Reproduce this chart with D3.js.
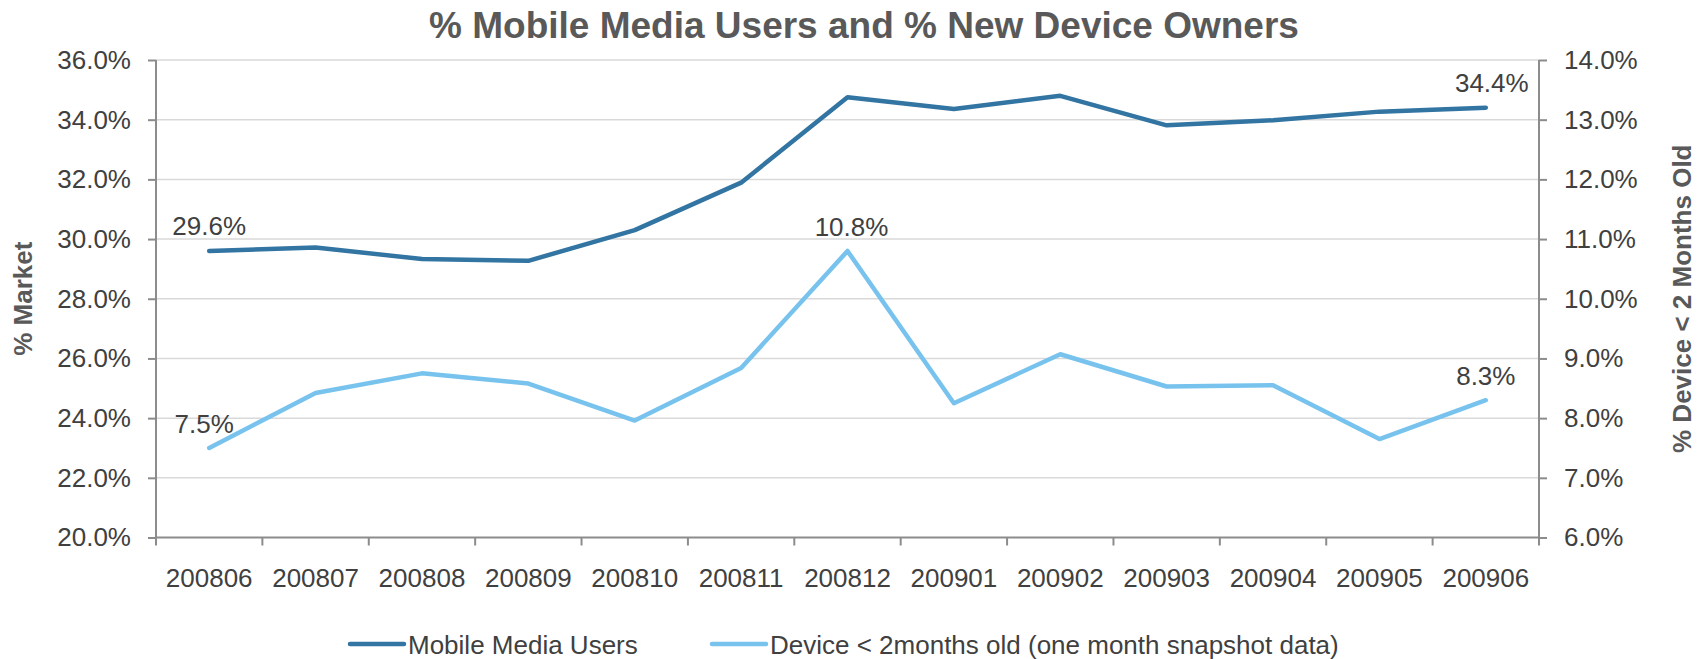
<!DOCTYPE html>
<html>
<head>
<meta charset="utf-8">
<script src="https://cdn.jsdelivr.net/npm/d3@7"></script>
<style>
  html, body { margin: 0; padding: 0; background: #ffffff; }
  svg { display: block; font-family: "Liberation Sans", Arial, sans-serif; }
</style>
</head>
<body>
<svg id="chart" width="1700" height="659"></svg>
<script>
// Monthly categories
const months = ["200806", "200807", "200808", "200809", "200810", "200811", "200812",
                "200901", "200902", "200903", "200904", "200905", "200906"];

// % of market using mobile media (left axis)
const mobileMediaUsers = [29.6, 29.72, 29.33, 29.27, 30.30, 31.89, 34.75, 34.36, 34.80, 33.81, 33.98, 34.27, 34.4];

// % of owners whose device is under 2 months old (right axis)
const newDeviceOwners = [7.5, 8.42, 8.75, 8.58, 7.96, 8.84, 10.8, 8.25, 9.07, 8.53, 8.55, 7.65, 8.3];

// Axis ticks
const leftTicks = [20, 22, 24, 26, 28, 30, 32, 34, 36];
const rightTicks = [6, 7, 8, 9, 10, 11, 12, 13, 14];

// Points that carry a value label
const mobileLabelIdx = [0, 12];
const deviceLabelIdx = [0, 6, 12];

const seriesNames = ["Mobile Media Users", "Device < 2months old (one month snapshot data)"];
const titleText = "% Mobile Media Users and % New Device Owners";
const leftTitle = "% Market";
const rightTitle = "% Device < 2 Months Old";

const colors = { mobile: "#3274A2", device: "#78C3EE", text: "#404040", title: "#595959",
                 grid: "#D9D9D9", axis: "#8C8C8C" };

const plot = { left: 156, right: 1539, top: 60, bottom: 537.5 };
const fontSize = 26;

const svg = d3.select("#chart");

const x = d3.scaleBand().domain(months).range([plot.left, plot.right]).padding(0);
const cx = d => x(d) + x.bandwidth() / 2;
const yL = d3.scaleLinear().domain([20, 36]).range([plot.bottom, plot.top]);
const yR = d3.scaleLinear().domain([6, 14]).range([plot.bottom, plot.top]);
const pct = v => d3.format(".1f")(v) + "%";

// Horizontal gridlines
svg.append("g")
  .selectAll("line")
  .data(leftTicks.slice(1))
  .join("line")
  .attr("x1", plot.left).attr("x2", plot.right)
  .attr("y1", d => yL(d)).attr("y2", d => yL(d))
  .attr("stroke", colors.grid).attr("stroke-width", 1.5);

// Left axis
const gL = svg.append("g")
  .attr("transform", `translate(${plot.left},0)`)
  .call(d3.axisLeft(yL).tickValues(leftTicks).tickFormat(pct).tickSize(8).tickPadding(17));
// Right axis
const gR = svg.append("g")
  .attr("transform", `translate(${plot.right},0)`)
  .call(d3.axisRight(yR).tickValues(rightTicks).tickFormat(pct).tickSize(8).tickPadding(17));
// Bottom axis; its ticks sit at the category boundaries
const gB = svg.append("g")
  .attr("transform", `translate(0,${plot.bottom})`)
  .call(d3.axisBottom(x).tickSize(0).tickPadding(31));

[gL, gR, gB].forEach(g => {
  g.select(".domain").attr("stroke", colors.axis).attr("stroke-width", 2);
  g.selectAll(".tick line").attr("stroke", colors.axis).attr("stroke-width", 2);
  g.selectAll("text").attr("fill", colors.text).attr("font-size", fontSize)
    .attr("font-family", "Liberation Sans, Arial, sans-serif");
});
gB.select(".domain").attr("d", `M${plot.left},0H${plot.right}`);
gL.select(".domain").attr("d", `M0,${plot.top}V${plot.bottom}`);
gR.select(".domain").attr("d", `M0,${plot.top}V${plot.bottom}`);

const boundaries = months.map(m => x(m)).concat([plot.right]);
svg.append("g")
  .selectAll("line")
  .data(boundaries)
  .join("line")
  .attr("x1", d => d).attr("x2", d => d)
  .attr("y1", plot.bottom).attr("y2", plot.bottom + 8)
  .attr("stroke", colors.axis).attr("stroke-width", 2);

// Series lines
const lineL = d3.line().x((d, i) => cx(months[i])).y(d => yL(d));
const lineR = d3.line().x((d, i) => cx(months[i])).y(d => yR(d));

svg.append("path").datum(mobileMediaUsers)
  .attr("d", lineL).attr("fill", "none")
  .attr("stroke", colors.mobile).attr("stroke-width", 4.5)
  .attr("stroke-linejoin", "round").attr("stroke-linecap", "round");

svg.append("path").datum(newDeviceOwners)
  .attr("d", lineR).attr("fill", "none")
  .attr("stroke", colors.device).attr("stroke-width", 4.5)
  .attr("stroke-linejoin", "round").attr("stroke-linecap", "round");

// Value labels
const labels = svg.append("g").attr("fill", colors.text).attr("font-size", fontSize)
  .attr("text-anchor", "middle");
labels.selectAll("text.m")
  .data(mobileLabelIdx)
  .join("text").attr("class", "m")
  .attr("x", i => cx(months[i]) + (i === 12 ? 6 : 0))
  .attr("y", i => yL(mobileMediaUsers[i]) - 16)
  .text(i => pct(mobileMediaUsers[i]));
labels.selectAll("text.d")
  .data(deviceLabelIdx)
  .join("text").attr("class", "d")
  .attr("x", i => cx(months[i]) + (i === 0 ? -5 : (i === 6 ? 4 : 0)))
  .attr("y", i => yR(newDeviceOwners[i]) - 15)
  .text(i => pct(newDeviceOwners[i]));

// Title
svg.append("text")
  .attr("x", 864).attr("y", 38)
  .attr("text-anchor", "middle")
  .attr("font-size", 37).attr("font-weight", "bold")
  .attr("fill", colors.title)
  .text(titleText);

// Axis titles
svg.append("text")
  .attr("transform", `translate(32,${(plot.top + plot.bottom) / 2}) rotate(-90)`)
  .attr("text-anchor", "middle")
  .attr("font-size", fontSize).attr("font-weight", "bold")
  .attr("fill", colors.title)
  .text(leftTitle);
svg.append("text")
  .attr("transform", `translate(1691,${(plot.top + plot.bottom) / 2}) rotate(-90)`)
  .attr("text-anchor", "middle")
  .attr("font-size", fontSize).attr("font-weight", "bold")
  .attr("fill", colors.title)
  .text(rightTitle);

// Legend
const legendItems = [
  { name: seriesNames[0], color: colors.mobile, x: 350 },
  { name: seriesNames[1], color: colors.device, x: 712 }
];
const lg = svg.append("g");
const li = lg.selectAll("g").data(legendItems).join("g")
  .attr("transform", d => `translate(${d.x},644)`);
li.append("line").attr("x1", 0).attr("x2", 54).attr("y1", 0).attr("y2", 0)
  .attr("stroke", d => d.color).attr("stroke-width", 4.5).attr("stroke-linecap", "round");
li.append("text").attr("x", 58).attr("y", 9.5)
  .attr("font-size", fontSize).attr("fill", colors.text)
  .text(d => d.name);
</script>
</body>
</html>
